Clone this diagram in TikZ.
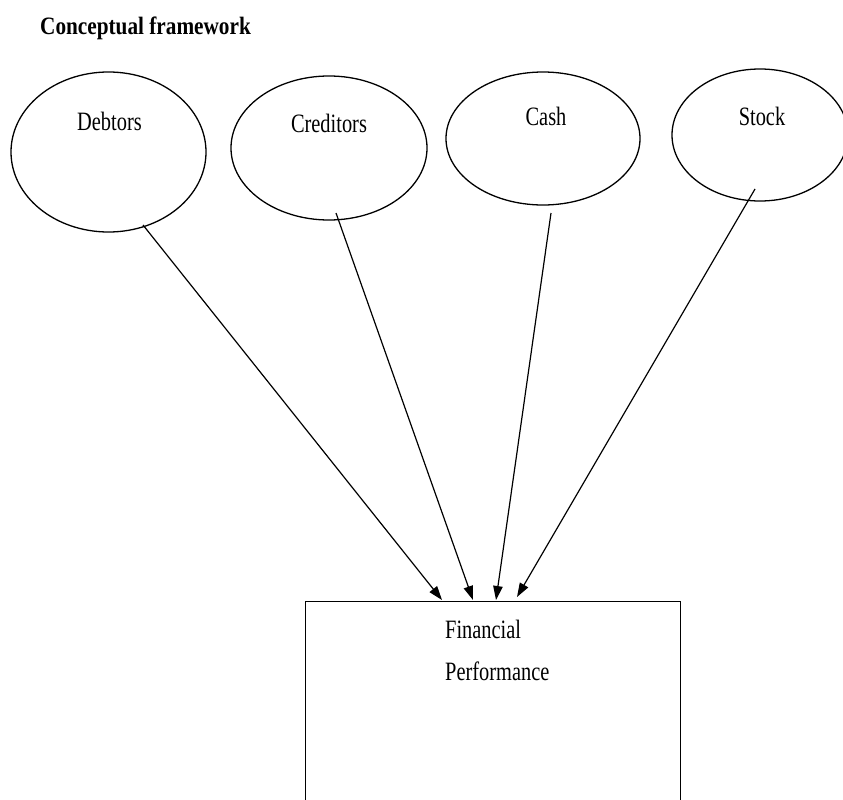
\documentclass[tikz,border=0pt]{standalone}
\usepackage{fontspec}
\setmainfont{Liberation Serif}
\newfontfamily\lblfont[FakeStretch=0.77]{Liberation Serif}
\newfontfamily\titlefont[FakeStretch=0.85]{Liberation Serif}
\usetikzlibrary{arrows.meta,calc,shapes.geometric}
\begin{document}
\begin{tikzpicture}[x=1pt,y=-1pt,
  oval/.style={draw,ellipse,line width=1.3pt,inner sep=0pt},
  lbl/.style={anchor=base,inner sep=0pt,font=\lblfont\fontsize{26.5}{30}\selectfont},
  link/.style={line width=1.2pt,-{Triangle[length=14pt,width=9.5pt]}}]
\useasboundingbox (0,0) rectangle (843,800);
\clip (0,0) rectangle (843,800);

% title
\node[anchor=base west,inner sep=0pt,font=\titlefont\bfseries\fontsize{25}{29}\selectfont]
  (title) at (40,35) {Conceptual framework};

% the four variables
\node[oval,minimum width=195pt,minimum height=160pt] (debtors) at (108.5,152) {};
\node[oval,minimum width=196pt,minimum height=144pt] (creditors) at (329,148) {};
\node[oval,minimum width=194pt,minimum height=133pt] (cash) at (543,138.5) {};
\node[oval,minimum width=176pt,minimum height=132pt] (stock) at (760,135) {};

\node[lbl] (debtorsLbl) at (109.5,130) {Debtors};
\node[lbl] (creditorsLbl) at (329,132) {Creditors};
\node[lbl] (cashLbl) at (546,125) {Cash};
\node[lbl] (stockLbl) at (762,125) {Stock};

% outcome box
\node[draw,rectangle,line width=1.2pt,anchor=north west,minimum width=375pt,minimum height=215pt]
  (fp) at (305,601) {};
\node[lbl,anchor=base west] (fpA) at (445,638) {Financial};
\node[lbl,anchor=base west] (fpB) at (445,680) {Performance};

% connector ends
\coordinate (s1) at (143,225);
\coordinate (s2) at (336,213);
\coordinate (s3) at (551,213);
\coordinate (s4) at (755,189);
\coordinate (e1) at ($(fp.north west)+(137,-1)$);
\coordinate (e2) at ($(fp.north west)+(168,-1)$);
\coordinate (e3) at ($(fp.north west)+(191,-1)$);
\coordinate (e4) at ($(fp.north west)+(212,-4)$);

\draw[link] (s1) -- (e1);
\draw[link] (s2) -- (e2);
\draw[link] (s3) -- (e3);
\draw[link] (s4) -- (e4);
\end{tikzpicture}
\end{document}
